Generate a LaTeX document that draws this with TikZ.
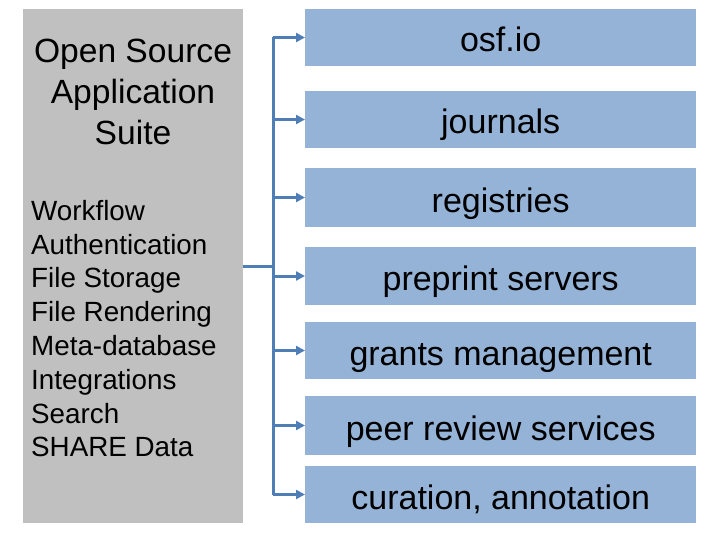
\documentclass[tikz,border=0pt]{standalone}
\usepackage{fontspec}
\setmainfont{Liberation Sans}
\usetikzlibrary{arrows.meta}
\definecolor{suitegray}{HTML}{C0C0C0}
\definecolor{boxblue}{HTML}{95B3D7}
\definecolor{linkblue}{HTML}{4F7DB5}
\begin{document}
\begin{tikzpicture}[x=1pt,y=-1pt,
  bluebox/.style={fill=boxblue, draw=none, minimum width=391pt, anchor=west,
    inner sep=0pt, text height=35pt, text depth=6pt, font=\fontsize{34}{40}\selectfont},
  link/.style={draw=linkblue, line width=3pt},
  arr/.style={link, -{Triangle[length=9pt,width=9pt]}, shorten >=0pt}]
\useasboundingbox (0,0) rectangle (720,540);
\node[fill=suitegray, draw=none, minimum width=220pt, minimum height=514pt,
  inner sep=0pt, anchor=north west] (suite) at (23,9) {};
\node[anchor=north, align=center, inner sep=0pt,
  font=\fontsize{33.6}{41}\selectfont] (title) at (133,38.5)
  {Open Source\\Application\\Suite};
\node[anchor=north west, align=left, inner sep=0pt,
  font=\fontsize{27.8}{33.8}\selectfont] (list) at (31,200)
  {Workflow\\Authentication\\File Storage\\File Rendering\\Meta-database\\Integrations\\Search\\SHARE Data};
\node[bluebox, minimum height=57pt] (b1) at (305,37.5) {osf.io};
\node[bluebox, minimum height=57pt] (b2) at (305,119.5) {journals};
\node[bluebox, minimum height=59pt] (b3) at (305,197.5) {registries};
\node[bluebox, minimum height=58pt] (b4) at (305,276) {preprint servers};
\node[bluebox, minimum height=57pt] (b5) at (305,350.5) {grants management};
\node[bluebox, minimum height=59pt] (b6) at (305,425.5) {peer review services};
\node[bluebox, minimum height=57pt] (b7) at (305,494.5) {curation, annotation};
\coordinate (bus) at (273,266);
\draw[link] (suite.east |- bus) -- (bus);
\draw[link] (bus |- b1.west) -- (bus |- b7.west);
\foreach \b in {b1,b2,b3,b4,b5,b6,b7}
  \draw[arr] (bus |- \b.west) -- (\b.west);
\end{tikzpicture}
\end{document}
